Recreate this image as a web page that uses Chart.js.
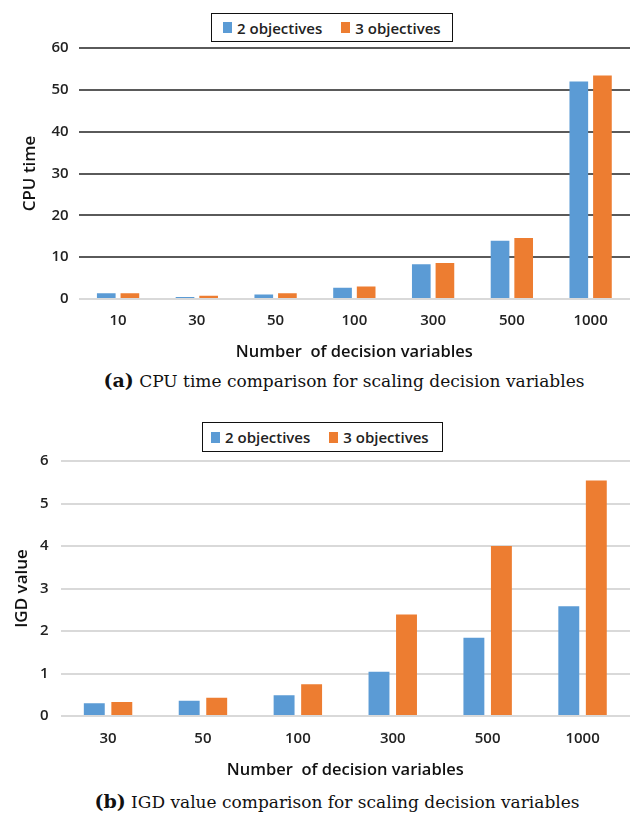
<!DOCTYPE html>
<html>
<head>
<meta charset="utf-8">
<script src="https://cdn.jsdelivr.net/npm/chart.js@4.4.0/dist/chart.umd.min.js"></script>
<style>
  body { margin: 0; background: #fff; width: 630px; height: 816px; position: relative; overflow: hidden; }
  .box { position: absolute; left: 0; width: 630px; }
  .legend { position: absolute; box-sizing: border-box; border: 1.5px solid #111; display: flex; align-items: center;
            font: 600 15px "Open Sans", sans-serif; color: #222; background: #fff; white-space: nowrap; }
  .legend .item { display: flex; align-items: center; margin-right: 19px; }
  .legend .sw { display: inline-block; width: 9px; height: 11px; margin-right: 5px; }
  .caption { position: absolute; width: 630px; text-align: center; font: 17px "DejaVu Serif", serif; color: #111; }
  .caption b { font-size: 19px; }
</style>
</head>
<body>
<div class="box" style="top:0;height:365px"><canvas id="cpuChart"></canvas></div>
<div class="legend" id="legA" style="left:211px;top:13px;width:242px;height:29px;padding-left:11px"></div>
<div class="caption" style="left:29px;top:369px"><b>(a)</b> CPU time comparison for scaling decision variables</div>

<div class="box" style="top:400px;height:380px"><canvas id="igdChart"></canvas></div>
<div class="legend" id="legB" style="left:202px;top:422px;width:241px;height:30px;padding-left:8px"></div>
<div class="caption" style="left:22px;top:790px"><b>(b)</b> IGD value comparison for scaling decision variables</div>

<script>
const seriesNames = ['2 objectives', '3 objectives'];
const seriesColors = ['#5B9BD5', '#ED7D31'];

// (a) CPU time
const sizesA = ['10', '30', '50', '100', '300', '500', '1000'];
const cpu2 = [1.4, 0.5, 1.1, 2.7, 8.3, 13.9, 52.0];
const cpu3 = [1.4, 0.8, 1.4, 3.0, 8.6, 14.6, 53.4];

// (b) IGD value
const sizesB = ['30', '50', '100', '300', '500', '1000'];
const igd2 = [0.30, 0.36, 0.49, 1.04, 1.84, 2.58];
const igd3 = [0.33, 0.43, 0.75, 2.39, 4.00, 5.54];

const tickFont = { family: 'Open Sans', size: 15, weight: '600' };

function makeChart(id, labels, a, b, opt) {
  return new Chart(document.getElementById(id), {
    type: 'bar',
    data: {
      labels: labels,
      datasets: [
        { label: seriesNames[0], data: a, backgroundColor: seriesColors[0] },
        { label: seriesNames[1], data: b, backgroundColor: seriesColors[1] },
      ],
    },
    options: {
      responsive: true,
      maintainAspectRatio: false,
      animation: false,
      categoryPercentage: opt.catPct,
      barPercentage: opt.barPct,
      layout: { padding: { top: opt.top, right: 0, bottom: 0, left: 0 } },
      plugins: { legend: { display: false }, tooltip: { enabled: false } },
      scales: {
        x: {
          grid: { display: false },
          border: { display: false },
          ticks: { color: '#222', font: tickFont, padding: opt.xPad },
          title: {
            display: true, text: 'Number  of decision variables', color: '#111',
            font: { family: 'Open Sans', size: 16.5, weight: '600' },
            padding: { top: 0, bottom: opt.xTitleBottom },
          },
          afterFit: (s) => { s.height = opt.xHeight; },
        },
        y: {
          min: 0, max: opt.max,
          border: { display: false },
          grid: {
            drawTicks: false, lineWidth: 2,
            color: (c) => (c.tick && c.tick.value === 0) ? '#d9d9d9' : opt.gridColor,
          },
          ticks: { stepSize: opt.step, color: '#222', font: tickFont, padding: opt.yPad },
          title: {
            display: true, text: opt.yTitle, color: '#111',
            font: { family: 'Open Sans', size: 17, weight: '600' },
            padding: { top: opt.yTitlePad, bottom: 0 },
          },
          afterFit: (s) => { s.width = opt.yWidth; },
        },
      },
    },
  });
}

function buildLegend(chart, el) {
  chart.data.datasets.forEach((ds) => {
    const item = document.createElement('div');
    item.className = 'item';
    const sw = document.createElement('span');
    sw.className = 'sw';
    sw.style.background = ds.backgroundColor;
    item.appendChild(sw);
    item.appendChild(document.createTextNode(ds.label));
    el.appendChild(item);
  });
}

const chartA = makeChart('cpuChart', sizesA, cpu2, cpu3, {
  catPct: 0.6, barPct: 0.79, top: 48, max: 60, step: 10, gridColor: '#5a5a5a',
  xPad: 5, xHeight: 66, xTitleBottom: 3, yPad: 10, yWidth: 78.7, yTitle: 'CPU time', yTitlePad: 20,
});
const chartB = makeChart('igdChart', sizesB, igd2, igd3, {
  catPct: 0.58, barPct: 0.76, top: 61, max: 6, step: 1, gridColor: '#d9d9d9',
  xPad: 6, xHeight: 64, xTitleBottom: 0, yPad: 12, yWidth: 60.6, yTitle: 'IGD value', yTitlePad: 12,
});
buildLegend(chartA, document.getElementById('legA'));
buildLegend(chartB, document.getElementById('legB'));
</script>
</body>
</html>
